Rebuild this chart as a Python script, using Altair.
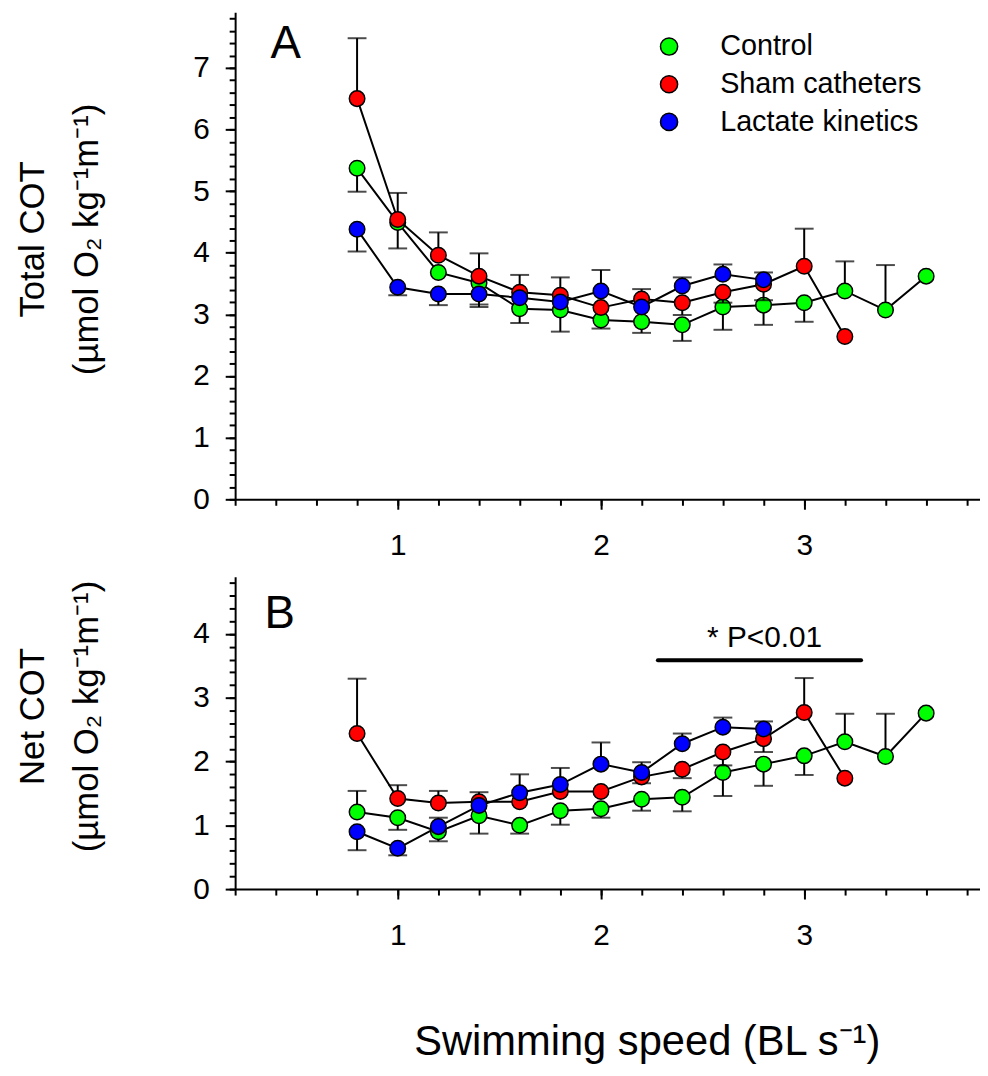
import altair as alt
import pandas as pd

FONT = "Liberation Sans"

# ---------------- data ----------------
speed = [0.8, 1.0, 1.2, 1.4, 1.6, 1.8, 2.0, 2.2, 2.4, 2.6, 2.8, 3.0, 3.2, 3.4, 3.6]

series_names = ["Control", "Sham catheters", "Lactate kinetics"]
series_colors = ["#00ff00", "#ff0000", "#0000ff"]

# Panel A: total cost of transport (mean and end of the one-sided SE bar)
total_control = [5.37, 4.49, 3.68, 3.51, 3.09, 3.07, 2.91, 2.88, 2.83, 3.12, 3.15, 3.19, 3.38, 3.07, 3.62]
total_control_err = [4.99, 4.07, None, 3.12, 2.86, 2.72, 2.77, 2.70, 2.57, 2.75, 2.83, 2.88, 3.86, 3.80, None]
total_sham = [6.50, 4.54, 3.96, 3.62, 3.36, 3.31, 3.11, 3.25, 3.19, 3.36, 3.49, 3.78, 2.64]
total_sham_err = [7.48, 4.97, 4.33, 3.99, 3.64, 3.60, None, 3.41, 2.99, 3.19, 3.23, 4.39, None]
total_lactate = [4.38, 3.44, 3.33, 3.33, 3.27, 3.20, 3.38, 3.12, 3.46, 3.65, 3.56]
total_lactate_err = [4.02, 3.31, 3.15, 3.16, None, None, 3.72, None, 3.60, 3.81, 3.68]

# Panel B: net cost of transport
net_control = [1.21, 1.12, 0.90, 1.15, 1.00, 1.23, 1.26, 1.41, 1.44, 1.83, 1.96, 2.09, 2.31, 2.08, 2.76]
net_control_err = [1.54, 0.93, 0.75, 0.87, 0.87, 1.01, 1.12, 1.23, 1.22, 1.46, 1.62, 1.79, 2.75, 2.75, None]
net_sham = [2.44, 1.42, 1.35, 1.37, 1.37, 1.53, 1.53, 1.76, 1.88, 2.15, 2.36, 2.77, 1.74]
net_sham_err = [3.30, 1.63, 1.54, 1.52, None, None, None, 1.66, 1.74, 1.94, 2.15, 3.31, None]
net_lactate = [0.90, 0.64, 0.98, 1.31, 1.51, 1.64, 1.96, 1.83, 2.28, 2.54, 2.51]
net_lactate_err = [0.61, 0.53, 1.12, None, 1.80, 1.90, 2.30, 1.99, 2.44, 2.69, 2.63]

# axis ticks
x_major = [1, 2, 3]
x_minor = [round(0.2 * i, 1) for i in range(1, 20)]
yA_major = [0, 1, 2, 3, 4, 5, 6, 7]
yA_minor = [round(0.2 * i, 1) for i in range(0, 40)]
yB_major = [0, 1, 2, 3, 4]
yB_minor = [round(0.2 * i, 1) for i in range(0, 25)]

# significance annotation (panel B)
sig_start, sig_end, sig_level = 2.28, 3.28, 3.59
sig_text_x, sig_text_level = 2.805, 3.93
sig_label = "* P<0.01"

X_DOMAIN = [0.2, 3.865]


def make_df(vals, errs):
    rows = []
    for name, v_list, e_list in zip(series_names, vals, errs):
        for s, v, e in zip(speed, v_list, e_list):
            rows.append({"speed": s, "value": v, "err": e, "series": name})
    return pd.DataFrame(rows)


dfA = make_df([total_control, total_sham, total_lactate],
              [total_control_err, total_sham_err, total_lactate_err])
dfB = make_df([net_control, net_sham, net_lactate],
              [net_control_err, net_sham_err, net_lactate_err])

one = pd.DataFrame({"k": [0]})


def panel(df, ydomain, ymaj, ymin, ytitle, xtitle, letter, letter_xy, width, height, legend, extra):
    xs = alt.Scale(domain=X_DOMAIN, nice=False, zero=False)
    ys = alt.Scale(domain=ydomain, nice=False, zero=False)
    fs = alt.Scale(domain=series_names, range=series_colors)

    xaxis_kw = dict(values=x_major, format="d", tickSize=10, tickWidth=2, tickColor="black",
                    domainColor="black", domainWidth=2, labelFontSize=30, labelFont=FONT,
                    labelColor="black", labelPadding=22, grid=False, orient="bottom")
    if xtitle:
        xaxis = alt.Axis(title=xtitle, titleFont=FONT, titleFontSize=42, titleFontWeight="normal",
                         titleColor="black", titleX=415, titleY=154, titleBaseline="middle",
                         titleAlign="center", **xaxis_kw)
    else:
        xaxis = alt.Axis(title=None, **xaxis_kw)
    yaxis = alt.Axis(values=ymaj, format="d", tickSize=10, tickWidth=2, tickColor="black",
                     domainColor="black", domainWidth=2, labelFontSize=30, labelFont=FONT,
                     labelColor="black", labelPadding=16, grid=False, orient="left",
                     title=ytitle, titleFont=FONT, titleFontSize=35, titleFontWeight="normal",
                     titleColor="black", titlePadding=89, titleLineHeight=55,
                     titleY=height / 2 - 17)
    xminor = alt.Axis(values=x_minor, tickSize=6, tickWidth=2, tickColor="black", labels=False,
                      domain=False, grid=False, title=None, orient="bottom")
    yminor = alt.Axis(values=ymin, tickSize=6, tickWidth=2, tickColor="black", labels=False,
                      domain=False, grid=False, title=None, orient="left")

    base = alt.Chart(df)
    layers = [
        base.mark_point(opacity=0).encode(
            x=alt.X("speed:Q", scale=xs, axis=xaxis),
            y=alt.Y("value:Q", scale=ys, axis=yaxis)),
        base.mark_point(opacity=0).encode(
            x=alt.X("speed:Q", scale=xs, axis=xminor),
            y=alt.Y("value:Q", scale=ys, axis=yminor)),
    ]
    X = alt.X("speed:Q", scale=xs, axis=None)
    for name in series_names:
        sb = base.transform_filter(alt.datum.series == name)
        sbe = sb.transform_filter("isValid(datum.err)")
        layers.append(sbe.mark_rule(color="black", strokeWidth=2).encode(
            x=X, y=alt.Y("value:Q", scale=ys, axis=None), y2="err:Q"))
        layers.append(sbe.mark_tick(orient="horizontal", color="black", size=19, thickness=2).encode(
            x=X, y=alt.Y("err:Q", scale=ys, axis=None)))
        layers.append(sb.mark_line(color="black", strokeWidth=2).encode(
            x=X, y=alt.Y("value:Q", scale=ys, axis=None)))
        layers.append(sb.mark_point(filled=True, size=245, stroke="black", strokeWidth=1.5,
                                    opacity=1, shape="circle").encode(
            x=X, y=alt.Y("value:Q", scale=ys, axis=None),
            fill=alt.Fill("series:N", scale=fs, legend=legend)))
    layers.append(alt.Chart(one).mark_text(text=letter, font=FONT, fontSize=46, color="black",
                                           align="center", baseline="middle").encode(
        x=alt.value(letter_xy[0]), y=alt.value(letter_xy[1])))
    for lay in extra(xs, ys):
        layers.append(lay)
    return alt.layer(*layers).resolve_axis(x="independent", y="independent").properties(
        width=width, height=height)


legendA = alt.Legend(orient="none", legendX=423, legendY=20, title=None, symbolType="circle",
                     symbolSize=300, symbolStrokeColor="black", symbolStrokeWidth=1.5,
                     labelFontSize=29, labelFont=FONT, labelColor="black", labelOffset=37,
                     labelLimit=0, rowPadding=8, padding=0)


def extraA(xs, ys):
    return []


def extraB(xs, ys):
    bar = alt.Chart(one).mark_rule(color="black", strokeWidth=4, strokeCap="round").encode(
        x=alt.X(datum=sig_start, scale=xs, axis=None),
        x2=alt.X2(datum=sig_end),
        y=alt.Y(datum=sig_level, scale=ys, axis=None))
    txt = alt.Chart(one).mark_text(text=sig_label, font=FONT, fontSize=30, color="black",
                                   align="center", baseline="middle").encode(
        x=alt.X(datum=sig_text_x, scale=xs, axis=None),
        y=alt.Y(datum=sig_text_level, scale=ys, axis=None))
    return [bar, txt]


panelA = panel(dfA, [0, 7.9], yA_major, yA_minor,
               ["Total COT", "(µmol O₂ kg⁻¹m⁻¹)"], None, "A", (51, 32), 751, 491, legendA, extraA)
panelB = panel(dfB, [0, 4.9], yB_major, yB_minor,
               ["Net COT", "(µmol O₂ kg⁻¹m⁻¹)"], "Swimming speed (BL s⁻¹)", "B", (45, 38),
               751, 315, None, extraB)

chart = alt.vconcat(panelA, panelB, spacing=16).resolve_scale(
    x="independent", y="independent", fill="independent"
).properties(padding={"left": 7, "top": 0, "right": 0, "bottom": 0}).configure_view(stroke=None)

chart.save("out.html", embed_options={"renderer": "svg", "actions": False})
